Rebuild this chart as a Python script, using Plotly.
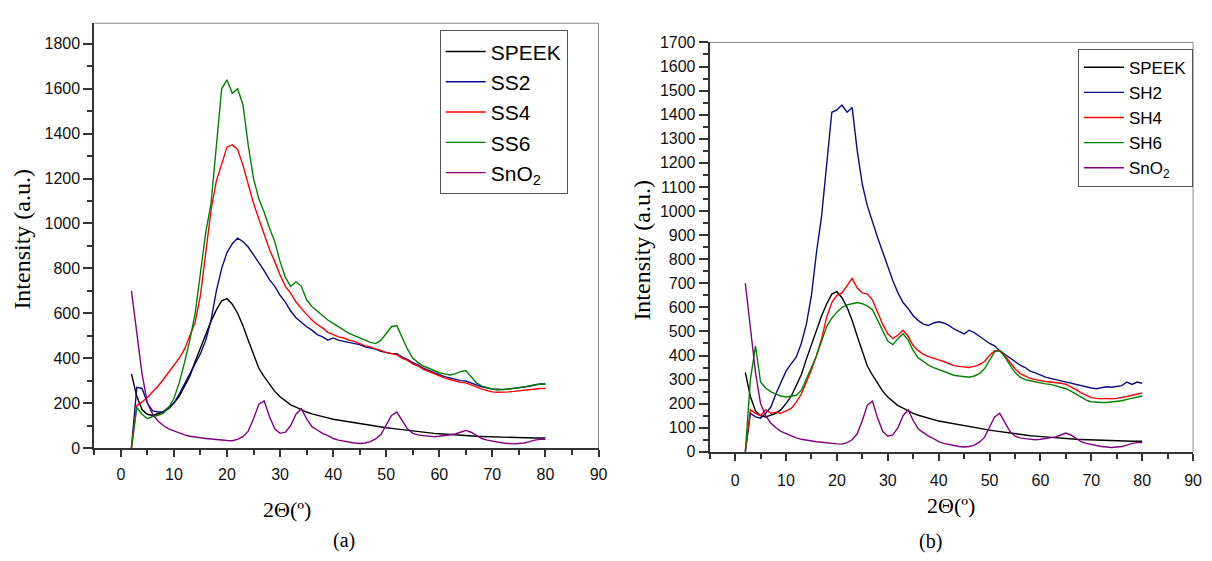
import plotly.graph_objects as go

# 2-theta grid (degrees)
two_theta = list(range(2, 81))

# Shared curves (same in both panels)
speek = [330, 230, 170, 150, 145, 152, 160, 175, 200, 230,
         275, 320, 385, 445, 505, 565, 615, 655, 665, 640,
         600, 545, 480, 415, 355, 318, 282, 252, 228, 208,
         192, 182, 170, 160, 152, 145, 140, 134, 128, 124,
         119, 116, 112, 108, 104, 100, 97, 94, 90, 87,
         84, 80, 77, 74, 71, 69, 67, 65, 63, 61,
         59, 58, 57, 56, 54, 52, 51, 50, 49, 48,
         47, 47, 46, 46, 45, 45, 44, 44, 44]
sno2 = [700, 520, 330, 200, 150, 120, 100, 85, 75, 65,
        58, 52, 48, 45, 42, 40, 37, 35, 33, 32,
        38, 50, 75, 130, 195, 210, 140, 85, 65, 70,
        100, 150, 175, 130, 95, 80, 65, 55, 42, 35,
        30, 25, 22, 20, 22, 28, 40, 60, 100, 145,
        160, 120, 85, 65, 58, 55, 52, 50, 52, 55,
        58, 62, 70, 78, 70, 55, 42, 35, 30, 25,
        22, 20, 18, 20, 22, 28, 35, 38, 38]

# Panel (a)
ss2 = [0, 270, 265, 200, 165, 160, 162, 180, 200, 240,
       285, 330, 370, 420, 480, 570, 700, 800, 870, 910,
       935, 920, 895, 860, 830, 790, 750, 720, 680, 650,
       610, 580, 560, 540, 525, 505, 495, 480, 490, 480,
       475, 470, 465, 460, 450, 445, 440, 430, 425, 420,
       420, 405, 395, 380, 370, 355, 345, 335, 325, 318,
       312, 305, 300, 298, 290, 280, 272, 268, 262, 262,
       260, 262, 265, 268, 270, 275, 280, 285, 285]
ss4 = [0, 190, 205, 225, 250, 275, 305, 335, 370, 400,
       440, 500, 560, 680, 880, 1060, 1190, 1270, 1340, 1350,
       1330, 1260, 1170, 1090, 1020, 950, 885, 830, 770, 720,
       690, 650, 620, 595, 570, 550, 535, 515, 505, 495,
       490, 480, 475, 465, 455, 450, 440, 435, 425, 420,
       415, 400, 390, 375, 365, 350, 340, 330, 320, 312,
       305, 298, 292, 290, 282, 272, 262, 255, 250, 248,
       248, 250, 252, 255, 258, 260, 262, 265, 265]
ss6 = [0, 180, 150, 130, 140, 145, 155, 180, 220, 290,
       380, 480, 600, 780, 960, 1090, 1340, 1600, 1640, 1580,
       1600, 1530, 1350, 1200, 1110, 1050, 980, 920, 830, 760,
       720, 740, 720, 660, 630, 610, 590, 570, 555, 540,
       525, 510, 500, 490, 480, 470, 465, 480, 510, 540,
       545, 490, 440, 400, 380, 365, 355, 345, 335, 330,
       325, 330, 340, 345, 315, 290, 275, 268, 262, 258,
       260, 262, 265, 268, 272, 278, 282, 285, 285]

# Panel (b)
sh2 = [0, 160, 145, 140, 160, 185, 240, 290, 335, 365,
       393, 450, 530, 650, 830, 980, 1200, 1410, 1420, 1440,
       1410, 1430, 1250, 1110, 1020, 950, 890, 830, 770, 710,
       660, 620, 595, 565, 545, 530, 525, 535, 540, 535,
       525, 510, 500, 490, 505, 495, 480, 465, 450, 440,
       420, 405, 390, 375, 360, 350, 335, 328, 318, 310,
       305, 300, 295, 290, 282, 278, 272, 268, 265, 262,
       265, 270, 268, 272, 275, 290, 280, 290, 285]
sh4 = [0, 175, 160, 150, 175, 160, 165, 160, 170, 180,
       205, 240, 290, 340, 400, 470, 560, 620, 650, 660,
       690, 720, 680, 660, 655, 630, 580, 530, 490, 470,
       485, 505, 480, 440, 420, 405, 395, 390, 382, 375,
       365, 358, 355, 352, 350, 355, 362, 375, 400, 420,
       420, 400, 370, 345, 325, 315, 305, 300, 295, 292,
       290, 288, 285, 280, 270, 258, 245, 235, 225, 222,
       220, 222, 220, 222, 225, 230, 235, 240, 245]
sh6 = [0, 300, 440, 290, 265, 250, 240, 232, 228, 230,
       235, 255, 300, 350, 400, 460, 520, 555, 580, 600,
       610, 615, 620, 615, 605, 590, 545, 500, 460, 445,
       470, 490, 465, 420, 390, 375, 360, 350, 342, 335,
       325, 318, 315, 312, 310, 315, 325, 345, 380, 415,
       420, 395, 360, 330, 310, 300, 295, 290, 285, 282,
       280, 275, 270, 262, 252, 240, 228, 215, 208, 205,
       205, 205, 207, 210, 212, 218, 222, 228, 232]

names_a = ["SPEEK", "SS2", "SS4", "SS6", "SnO<sub>2</sub>"]
names_b = ["SPEEK", "SH2", "SH4", "SH6", "SnO<sub>2</sub>"]
colors = ["#000000", "#0a0a8a", "#ff0000", "#008000", "#800080"]

W, H = 1212, 561
fig = go.Figure()

for name, ys, c in zip(names_a, [speek, ss2, ss4, ss6, sno2], colors):
    fig.add_trace(go.Scatter(x=two_theta, y=ys, mode="lines", name=name,
                             line=dict(color=c, width=1.4),
                             xaxis="x", yaxis="y", legend="legend"))
for name, ys, c in zip(names_b, [speek, sh2, sh4, sh6, sno2], colors):
    fig.add_trace(go.Scatter(x=two_theta, y=ys, mode="lines", name=name,
                             line=dict(color=c, width=1.4),
                             xaxis="x2", yaxis="y2", legend="legend2"))

tickfont = dict(family="Arial, Liberation Sans", size=16, color="#111")
axline = dict(showline=True, linecolor="#333", linewidth=2, ticks="outside",
              tickcolor="#333", tickwidth=1.5, showgrid=False, zeroline=False,
              tickfont=tickfont)

xa_dom = [95 / W, 603 / W]
xb_dom = [715 / W, 1202 / W]
ya_dom = [1 - 453.7 / H, 1 - 15.7 / H]
yb_dom = [1 - 457.7 / H, 1 - 35.5 / H]

fig.update_layout(
    width=W, height=H,
    margin=dict(l=0, r=0, t=0, b=0),
    paper_bgcolor="white", plot_bgcolor="white",
    showlegend=True,
    xaxis=dict(domain=xa_dom, range=[-5, 90], anchor="y", tickmode="array",
               tickvals=list(range(0, 91, 10)), ticklen=7,
               minor=dict(ticks="outside", dtick=5, tick0=-5, ticklen=5, tickcolor="#333"),
               ticklabelstandoff=4, **axline),
    yaxis=dict(domain=ya_dom, range=[0, 1892], anchor="x", tickmode="array",
               tickvals=list(range(0, 1801, 200)), ticklen=9,
               minor=dict(ticks="outside", dtick=100, ticklen=5, tickcolor="#333"),
               **axline),
    xaxis2=dict(domain=xb_dom, range=[-5, 90], anchor="y2", tickmode="array",
                tickvals=list(range(0, 91, 10)), ticklen=7,
                minor=dict(ticks="outside", dtick=5, tick0=-5, ticklen=5, tickcolor="#333"),
                ticklabelstandoff=6, **axline),
    yaxis2=dict(domain=yb_dom, range=[0, 1700], anchor="x2", tickmode="array",
                tickvals=list(range(0, 1701, 100)), ticklen=9,
                minor=dict(ticks="outside", dtick=50, ticklen=5, tickcolor="#333"),
                **axline),
    legend=dict(x=443 / W, y=1 - 23 / H, xanchor="left", yanchor="top",
                bgcolor="white", bordercolor="#555", borderwidth=1,
                font=dict(family="Arial, Liberation Sans", size=21, color="#000"),
                tracegroupgap=0, itemwidth=40),
    legend2=dict(x=1086 / W, y=1 - 42 / H, xanchor="left", yanchor="top",
                 bgcolor="white", bordercolor="#555", borderwidth=1,
                 font=dict(family="Arial, Liberation Sans", size=17, color="#000"),
                 tracegroupgap=0, itemwidth=40),
)

# Thin grey top and right frame lines
for xr, yr in [("x domain", "y domain"), ("x2 domain", "y2 domain")]:
    fig.add_shape(type="line", xref=xr, yref=yr, x0=0, x1=1, y0=1, y1=1,
                  line=dict(color="#888", width=1))
    fig.add_shape(type="line", xref=xr, yref=yr, x0=1, x1=1, y0=0, y1=1,
                  line=dict(color="#888", width=1))

serif = "Times New Roman, Liberation Serif, serif"
annots = [
    dict(text="Intensity (a.u.)", x=22 / W, y=1 - 238 / H, textangle=-90, size=24),
    dict(text="Intensity (a.u.)", x=647 / W, y=1 - 250 / H, textangle=-90, size=24),
    dict(text="2Θ(º)", x=289 / W, y=1 - 517 / H, textangle=0, size=22),
    dict(text="2Θ(º)", x=958 / W, y=1 - 513 / H, textangle=0, size=22),
    dict(text="(a)", x=347 / W, y=1 - 549 / H, textangle=0, size=20),
    dict(text="(b)", x=937 / W, y=1 - 550 / H, textangle=0, size=20),
]
for a in annots:
    fig.add_annotation(text=a["text"], x=a["x"], y=a["y"], xref="paper", yref="paper",
                       xanchor="center", yanchor="middle", showarrow=False,
                       textangle=a["textangle"],
                       font=dict(family=serif, size=a["size"], color="#000"))

fig.write_html("out.html")
